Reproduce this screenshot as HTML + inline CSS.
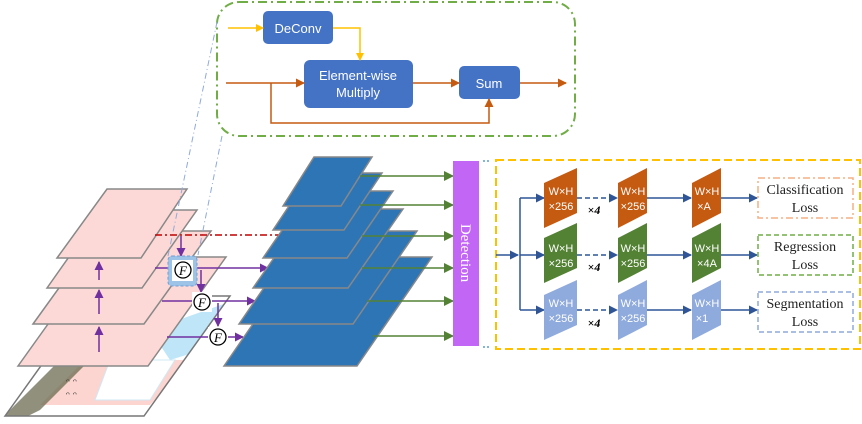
<!DOCTYPE html>
<html><head><meta charset="utf-8"><style>
html,body{margin:0;padding:0;background:#fff;}
svg{display:block;}
.s{font-family:"Liberation Sans",sans-serif;}
.r{font-family:"Liberation Serif",serif;}
</style></head><body>
<svg width="862" height="424" viewBox="0 0 862 424" xmlns="http://www.w3.org/2000/svg">
<defs>
<marker id="ay" markerWidth="8" markerHeight="8" refX="7" refY="4" orient="auto" markerUnits="userSpaceOnUse"><path d="M0,0L8,4L0,8z" fill="#ffc000"/></marker>
<marker id="ao" markerWidth="9" markerHeight="9" refX="8" refY="4.5" orient="auto" markerUnits="userSpaceOnUse"><path d="M0,0L9,4.5L0,9z" fill="#c55a11"/></marker>
<marker id="ap" markerWidth="9" markerHeight="9" refX="8" refY="4.5" orient="auto" markerUnits="userSpaceOnUse"><path d="M0,0L9,4.5L0,9z" fill="#7030a0"/></marker>
<marker id="ag" markerWidth="10" markerHeight="10" refX="9" refY="5" orient="auto" markerUnits="userSpaceOnUse"><path d="M0,0L10,5L0,10z" fill="#548235"/></marker>
<marker id="ab" markerWidth="9" markerHeight="9" refX="8" refY="4.5" orient="auto" markerUnits="userSpaceOnUse"><path d="M0,0L9,4.5L0,9z" fill="#2f5597"/></marker>
<clipPath id="imgc"><polygon points="5,416 91,296 230,296 144,416"/></clipPath>
</defs>

<!-- top detail box -->
<rect x="217" y="2" width="358" height="134" rx="22" fill="none" stroke="#70ad47" stroke-width="2" stroke-dasharray="9,4,2,4"/>
<rect x="263" y="11" width="70" height="33" rx="5" fill="#4472c4"/>
<text x="298" y="33" class="s" font-size="13" fill="#fff" text-anchor="middle">DeConv</text>
<rect x="304" y="60" width="109" height="48" rx="6" fill="#4472c4"/>
<text x="358" y="80" class="s" font-size="13" fill="#fff" text-anchor="middle">Element-wise</text>
<text x="358" y="97" class="s" font-size="13" fill="#fff" text-anchor="middle">Multiply</text>
<rect x="459" y="66" width="61" height="33" rx="5" fill="#4472c4"/>
<text x="489" y="88" class="s" font-size="13" fill="#fff" text-anchor="middle">Sum</text>
<line x1="228" y1="28" x2="263" y2="28" stroke="#ffc000" stroke-width="1.5" marker-end="url(#ay)"/>
<polyline points="333,28 360,28 360,60" fill="none" stroke="#ffc000" stroke-width="1.5" marker-end="url(#ay)"/>
<line x1="226" y1="83" x2="304" y2="83" stroke="#c55a11" stroke-width="1.5" marker-end="url(#ao)"/>
<line x1="413" y1="83" x2="459" y2="83" stroke="#c55a11" stroke-width="1.5" marker-end="url(#ao)"/>
<line x1="520" y1="83" x2="566" y2="83" stroke="#c55a11" stroke-width="1.5" marker-end="url(#ao)"/>
<polyline points="271,83 271,123 489,123 489,99" fill="none" stroke="#c55a11" stroke-width="1.5" marker-end="url(#ao)"/>

<!-- left stack -->
<polygon points="5,416 91,296 230,296 144,416" fill="#fff"/>
<g clip-path="url(#imgc)">
<polygon points="40,405 85,360 190,360 150,405" fill="#fcd5d0"/>
<polygon points="0,420 60,360 90,360 40,410 20,420" fill="#6b6b50" opacity="0.75"/>
<polygon points="150,330 235,300 235,340 170,360" fill="#bfe6f8"/>
<polygon points="110,360 175,360 150,400 95,400" fill="#fff" stroke="#cfe8f5"/>
</g>
<polygon points="5,416 91,296 230,296 144,416" fill="none" stroke="#777" stroke-width="1.5"/>
<text x="66" y="387" class="r" font-size="13" fill="#333">ᵔ ᵔ</text>
<text x="66" y="400" class="r" font-size="13" fill="#333">ᵔ ᵔ</text>
<polygon points="18,366 96,257 226,257 148,366" fill="#fcd9d6" stroke="#888" stroke-width="1.5"/>
<polygon points="33,324 100,231 211,231 144,324" fill="#fcd9d6" stroke="#888" stroke-width="1.5"/>
<polygon points="47,288 102,210 197,210 142,288" fill="#fcd9d6" stroke="#888" stroke-width="1.5"/>
<polygon points="57,258 107,189 187,189 141,258" fill="#fcd9d6" stroke="#888" stroke-width="1.5"/>
<line x1="99" y1="280" x2="99" y2="262" stroke="#7030a0" stroke-width="1.5" marker-end="url(#ap)"/>
<line x1="99" y1="314" x2="99" y2="290" stroke="#7030a0" stroke-width="1.5" marker-end="url(#ap)"/>
<line x1="99" y1="352" x2="99" y2="327" stroke="#7030a0" stroke-width="1.5" marker-end="url(#ap)"/>

<!-- projection lines -->
<line x1="217" y1="22" x2="168" y2="256" stroke="#8faadc" stroke-width="1" stroke-dasharray="6,3,1,3"/>
<line x1="222" y1="136" x2="198" y2="255" stroke="#8faadc" stroke-width="1" stroke-dasharray="6,3,1,3"/>

<line x1="155" y1="235" x2="282" y2="235" stroke="#c00000" stroke-width="1.5" stroke-dasharray="7,3,2,3"/>

<!-- purple connections -->
<line x1="155" y1="268" x2="268" y2="268" stroke="#7030a0" stroke-width="1.5" marker-end="url(#ap)"/>
<line x1="162" y1="301" x2="255" y2="301" stroke="#7030a0" stroke-width="1.5" marker-end="url(#ap)"/>
<line x1="167" y1="337" x2="243" y2="337" stroke="#7030a0" stroke-width="1.5" marker-end="url(#ap)"/>
<line x1="181" y1="236" x2="181" y2="256" stroke="#7030a0" stroke-width="1.5" marker-end="url(#ap)"/>
<line x1="201" y1="270" x2="201" y2="292" stroke="#7030a0" stroke-width="1.5" marker-end="url(#ap)"/>
<line x1="218" y1="303" x2="218" y2="326" stroke="#7030a0" stroke-width="1.5" marker-end="url(#ap)"/>
<rect x="168" y="256" width="29" height="30" rx="4" fill="#9dc3e6" stroke="#6f9fd8" stroke-dasharray="3,2"/>
<rect x="172" y="260" width="21" height="21" fill="#fff"/>
<g class="r" font-size="13" font-style="italic" text-anchor="middle">
<rect x="192" y="292" width="20" height="20" fill="#fff"/>
<rect x="208" y="327" width="20" height="20" fill="#fff"/>
<circle cx="183" cy="270" r="8" fill="#fff" stroke="#000" stroke-width="1.3"/><text x="183" y="275">F</text>
<circle cx="202" cy="302" r="8" fill="#fff" stroke="#000" stroke-width="1.3"/><text x="202" y="307">F</text>
<circle cx="218" cy="337" r="8" fill="#fff" stroke="#000" stroke-width="1.3"/><text x="218" y="342">F</text>
</g>

<!-- blue stack -->
<g fill="#2e75b6" stroke="#888" stroke-width="1.5">
<polygon points="224,366 299,257 432,257 357,366"/>
<polygon points="239,324 303,231 417,231 353,324"/>
<polygon points="253,288 308,209 403,209 348,288"/>
<polygon points="263,258 309,191 393,191 347,258"/>
<polygon points="273,230 311,173 382,173 344,230"/>
<polygon points="283,206 314,157 372,157 341,206"/>
</g>
<g stroke="#548235" stroke-width="1.5">
<line x1="360" y1="176" x2="453" y2="176" marker-end="url(#ag)"/>
<line x1="360" y1="205" x2="453" y2="205" marker-end="url(#ag)"/>
<line x1="362" y1="236" x2="453" y2="236" marker-end="url(#ag)"/>
<line x1="362" y1="268" x2="453" y2="268" marker-end="url(#ag)"/>
<line x1="367" y1="301" x2="453" y2="301" marker-end="url(#ag)"/>
<line x1="373" y1="336" x2="453" y2="336" marker-end="url(#ag)"/>
</g>
<rect x="453" y="161" width="26" height="185" fill="#c266f5"/>
<text transform="translate(461,253) rotate(90)" class="r" font-size="15" fill="#fff" text-anchor="middle">Detection</text>
<path d="M483,161 H490 M483,347 H490" stroke="#5b9bd5" stroke-width="1.5" stroke-dasharray="2,2"/>

<!-- head box -->
<rect x="496" y="160" width="364" height="189" fill="none" stroke="#ffc000" stroke-width="2" stroke-dasharray="8,4"/>
<g stroke="#2f5597" stroke-width="1.5" fill="none">
<line x1="496" y1="255" x2="518" y2="255" marker-end="url(#ab)"/>
<line x1="520" y1="198" x2="520" y2="310"/>
<line x1="520" y1="198" x2="544" y2="198" marker-end="url(#ab)"/>
<line x1="520" y1="255" x2="544" y2="255" marker-end="url(#ab)"/>
<line x1="520" y1="310" x2="544" y2="310" marker-end="url(#ab)"/>
<g stroke-dasharray="5,3">
<line x1="577" y1="198" x2="617" y2="198" marker-end="url(#ab)"/>
<line x1="577" y1="255" x2="617" y2="255" marker-end="url(#ab)"/>
<line x1="577" y1="310" x2="617" y2="310" marker-end="url(#ab)"/>
</g>
<line x1="647" y1="198" x2="691" y2="198" marker-end="url(#ab)"/>
<line x1="647" y1="255" x2="691" y2="255" marker-end="url(#ab)"/>
<line x1="647" y1="310" x2="691" y2="310" marker-end="url(#ab)"/>
<line x1="721" y1="198" x2="757" y2="198" marker-end="url(#ab)"/>
<line x1="721" y1="255" x2="757" y2="255" marker-end="url(#ab)"/>
<line x1="721" y1="310" x2="757" y2="310" marker-end="url(#ab)"/>
</g>
<g fill="#c55a11">
<polygon points="544,183 577,168 577,213 544,228"/>
<polygon points="618,183 647,168 647,213 618,228"/>
<polygon points="692,183 721,168 721,213 692,228"/>
</g>
<g fill="#548235">
<polygon points="544,238 577,223 577,268 544,283"/>
<polygon points="618,238 647,223 647,268 618,283"/>
<polygon points="692,238 721,223 721,268 692,283"/>
</g>
<g fill="#8faadc">
<polygon points="544,295 577,280 577,325 544,340"/>
<polygon points="618,295 647,280 647,325 618,340"/>
<polygon points="692,295 721,280 721,325 692,340"/>
</g>
<g class="s" font-size="11" fill="#fff" text-anchor="middle">
<text x="561" y="195">W×H</text><text x="561" y="210">×256</text>
<text x="633" y="195">W×H</text><text x="633" y="210">×256</text>
<text x="707" y="195">W×H</text><text x="704" y="210">×A</text>
<text x="561" y="252">W×H</text><text x="561" y="267">×256</text>
<text x="633" y="252">W×H</text><text x="633" y="267">×256</text>
<text x="707" y="252">W×H</text><text x="707" y="267">×4A</text>
<text x="561" y="307">W×H</text><text x="561" y="322">×256</text>
<text x="633" y="307">W×H</text><text x="633" y="322">×256</text>
<text x="707" y="307">W×H</text><text x="702" y="322">×1</text>
</g>
<g class="r" font-size="12" font-weight="bold" text-anchor="middle">
<text x="594" y="214">×<tspan font-style="italic">4</tspan></text>
<text x="594" y="271">×<tspan font-style="italic">4</tspan></text>
<text x="594" y="327">×<tspan font-style="italic">4</tspan></text>
</g>
<rect x="758" y="178" width="95" height="40" fill="none" stroke="#f4b183" stroke-width="1.5" stroke-dasharray="7,3,2,3"/>
<rect x="758" y="235" width="95" height="40" fill="none" stroke="#70ad47" stroke-width="1.5" stroke-dasharray="5,3"/>
<rect x="758" y="292" width="95" height="40" fill="none" stroke="#8faadc" stroke-width="1.5" stroke-dasharray="5,3"/>
<g class="r" font-size="14" fill="#222" text-anchor="middle">
<text x="805" y="194">Classification</text><text x="805" y="212">Loss</text>
<text x="805" y="251">Regression</text><text x="805" y="269">Loss</text>
<text x="805" y="308">Segmentation</text><text x="805" y="326">Loss</text>
</g>
</svg>
</body></html>
